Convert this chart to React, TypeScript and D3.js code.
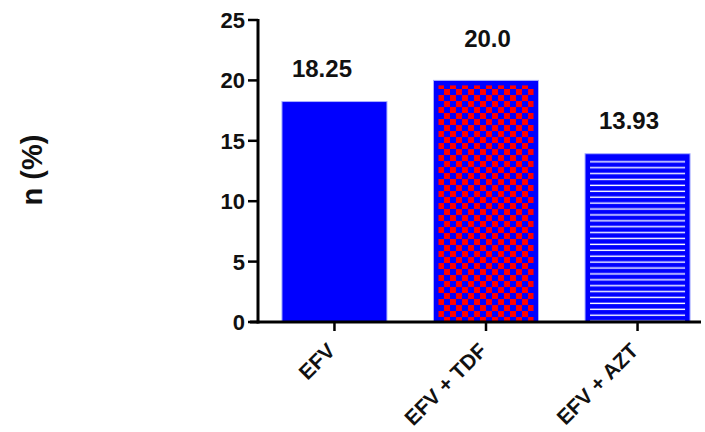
import React from "react";
import * as d3 from "d3";

const categories = ["EFV", "EFV + TDF", "EFV + AZT"];
const values = [18.25, 20.0, 13.93];
const valueLabels = ["18.25", "20.0", "13.93"];
const yTicks = [0, 5, 10, 15, 20, 25];
const yLabel = "n (%)";

// per-label nudges (layout only)
const labelDx = [-12.5, 1.5, -8.5];
const labelGap = [25, 33, 24.5];

export default function App() {
  const W = 705, H = 432;
  const y = d3.scaleLinear().domain([0, 25]).range([322, 20]);
  const x = d3.scaleBand<string>().domain(categories).range([258, 714]).paddingInner(0.307).paddingOuter(0.158);
  const bw = x.bandwidth();
  const font = "'Liberation Sans', Arial, sans-serif";
  const fills = ["#0000ff", "url(#checker)", "url(#stripes)"];
  return (
    <svg width={W} height={H} style={{ position: "absolute", left: 0, top: 0 }}>
      <defs>
        <pattern id="checker" patternUnits="userSpaceOnUse" width={12} height={12} x={438} y={83}>
          <rect width={12} height={12} fill="#0000ff" />
          <rect width={6} height={6} fill="#ff0000" />
          <rect x={6} y={6} width={6} height={6} fill="#ff0000" />
        </pattern>
        <pattern id="stripes" patternUnits="userSpaceOnUse" width={10} height={5.9} x={0} y={158.5}>
          <rect width={10} height={5.9} fill="#0000ff" />
          <rect y={2.6} width={10} height={1.4} fill="#ffffff" />
        </pattern>
      </defs>
      {categories.map((c, i) => {
        const x0 = x(c)!;
        const top = y(values[i]);
        const h = y(0) - top;
        return (
          <g key={c}>
            <rect x={x0} y={top} width={bw} height={h} fill="#0000ff" stroke="#aab0ff" strokeWidth={1} />
            {i > 0 && (
              <rect x={x0 + 5} y={top + 5} width={bw - 10} height={h - 5} fill={fills[i]} />
            )}
            <text x={x0 + bw / 2 + labelDx[i]} y={top - labelGap[i]} textAnchor="middle" fontFamily={font} fontWeight="bold" fontSize={24} fill="#111">
              {valueLabels[i]}
            </text>
          </g>
        );
      })}
      {/* y axis */}
      <line x1={258} x2={258} y1={y(25) - 1} y2={y(0) + 1.5} stroke="#000" strokeWidth={3} />
      {yTicks.map((t) => (
        <g key={t}>
          <line x1={248} x2={258} y1={y(t)} y2={y(t)} stroke="#000" strokeWidth={2.5} />
          <text x={245} y={y(t)} dy="0.36em" textAnchor="end" fontFamily={font} fontWeight="bold" fontSize={22} fill="#111">
            {t}
          </text>
        </g>
      ))}
      {/* x axis */}
      <line x1={250} x2={701} y1={y(0)} y2={y(0)} stroke="#000" strokeWidth={3} />
      {categories.map((c) => {
        const cx = x(c)! + bw / 2;
        return (
          <g key={c}>
            <line x1={cx} x2={cx} y1={y(0)} y2={y(0) + 9} stroke="#000" strokeWidth={2.5} />
            <text
              transform={`translate(${cx + 2},${y(0) + 30}) rotate(-45)`}
              textAnchor="end"
              fontFamily={font}
              fontWeight="bold"
              fontSize={21}
              fill="#111"
            >
              {c}
            </text>
          </g>
        );
      })}
      <text transform={`translate(42,170) rotate(-90)`} textAnchor="middle" fontFamily={font} fontWeight="bold" fontSize={29} fill="#111">
        {yLabel}
      </text>
    </svg>
  );
}
